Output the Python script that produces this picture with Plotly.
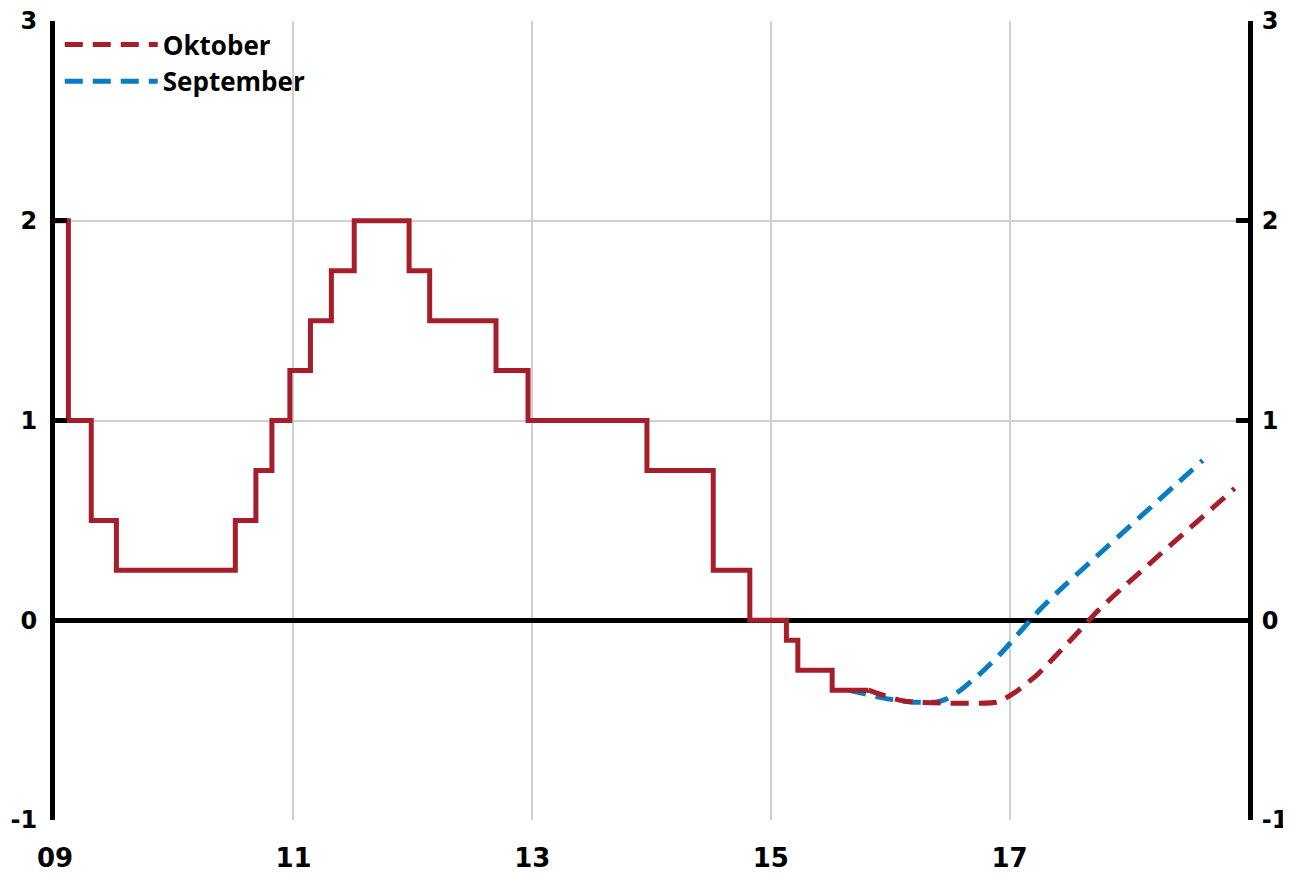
import plotly.graph_objects as go

# Actual repo rate (step series)
step_dates = ["2009-01-01", "2009-02-11", "2009-04-22", "2009-07-08", "2010-07-07",
              "2010-09-08", "2010-10-27", "2010-12-21", "2011-02-22", "2011-04-27",
              "2011-07-06", "2011-12-21", "2012-02-22", "2012-09-12", "2012-12-19",
              "2013-12-18", "2014-07-09", "2014-10-29", "2015-02-18", "2015-03-25",
              "2015-07-08", "2015-10-27"]
step_rates = [2.00, 1.00, 0.50, 0.25, 0.50,
              0.75, 1.00, 1.25, 1.50, 1.75,
              2.00, 1.75, 1.50, 1.25, 1.00,
              0.75, 0.25, 0.00, -0.10, -0.25,
              -0.35, -0.35]

# Forecast "Oktober"
okt_dates = ["2015-10-27", "2015-12-02", "2016-01-30", "2016-03-14", "2016-11-24",
             "2017-01-19", "2017-03-29", "2017-05-27", "2017-07-24", "2017-09-24",
             "2017-11-21", "2018-11-21"]
okt_rates = [-0.35, -0.37, -0.40, -0.41, -0.41,
             -0.36, -0.27, -0.17, -0.07, 0.04,
             0.13, 0.66]

# Forecast "September"
sep_dates = ["2015-08-26", "2015-10-20", "2015-12-13", "2016-02-06", "2016-03-14",
             "2016-05-19", "2016-06-21", "2016-08-04", "2016-10-08", "2016-12-09",
             "2017-04-02", "2017-06-03", "2018-08-15"]
sep_rates = [-0.35, -0.37, -0.39, -0.405, -0.41,
             -0.41, -0.395, -0.35, -0.26, -0.16,
             0.05, 0.15, 0.80]

y_ticks = [-1, 0, 1, 2, 3]
y_tick_text = ["-1", "0", "1", "2", "3"]
x_tick_vals = ["2009-01-01", "2011-01-01", "2013-01-01", "2015-01-01", "2017-01-01"]
x_tick_text = ["09", "11", "13", "15", "17"]

RED = "#A61E2A"
BLUE = "#0A7DC2"
DASH = "18px,10px"

fig = go.Figure()
fig.add_trace(go.Scatter(x=sep_dates, y=sep_rates, mode="lines", name="September",
                         line=dict(color=BLUE, width=5, dash=DASH, shape="spline", smoothing=0.5),
                         legendrank=2))
fig.add_trace(go.Scatter(x=okt_dates, y=okt_rates, mode="lines", name="Oktober",
                         line=dict(color=RED, width=5, dash=DASH, shape="spline", smoothing=0.5),
                         legendrank=1))
fig.add_trace(go.Scatter(x=step_dates, y=step_rates, mode="lines", showlegend=False,
                         line=dict(color=RED, width=5, shape="hv")))
# invisible trace to activate the right axis
fig.add_trace(go.Scatter(x=[step_dates[0]], y=[0], yaxis="y2", mode="markers",
                         marker=dict(opacity=0), showlegend=False, hoverinfo="skip"))

xtickfont = dict(family="DejaVu Sans", size=26, color="black", weight="bold")
ytickfont = dict(family="DejaVu Sans", size=24, color="black", weight="bold")

# page body adds an 8px offset, so the figure is sized to fit the window
fig.update_layout(
    width=1283, height=867,
    margin=dict(l=47, r=43, t=13, b=55),
    paper_bgcolor="white", plot_bgcolor="white",
    showlegend=True,
    legend=dict(x=0.004, y=1.0, xanchor="left", yanchor="top",
                bgcolor="rgba(0,0,0,0)", borderwidth=0, itemwidth=93,
                font=dict(family="Open Sans", size=26, color="black", weight="bold"),
                tracegroupgap=0),
    xaxis=dict(type="date", range=["2009-01-01", "2019-01-01"], automargin=False,
               tickvals=x_tick_vals, ticktext=x_tick_text,
               showgrid=True, gridcolor="#CFCFCF", gridwidth=2,
               showline=False, ticks="", zeroline=False,
               tickfont=xtickfont, ticklabelstandoff=20, ticklabeloverflow="allow"),
    yaxis=dict(range=[-1, 3], tickvals=y_ticks, ticktext=y_tick_text, automargin=False,
               showgrid=True, gridcolor="#CFCFCF", gridwidth=2,
               zeroline=True, zerolinecolor="black", zerolinewidth=5,
               showline=True, linecolor="black", linewidth=5,
               ticks="inside", ticklen=12, tickwidth=5, tickcolor="black",
               tickfont=ytickfont, ticklabelstandoff=8, ticklabeloverflow="allow"),
    yaxis2=dict(range=[-1, 3], tickvals=y_ticks, ticktext=y_tick_text, automargin=False,
                overlaying="y", side="right",
                showgrid=False, zeroline=False,
                showline=True, linecolor="black", linewidth=5,
                ticks="inside", ticklen=12, tickwidth=5, tickcolor="black",
                tickfont=ytickfont, ticklabelstandoff=4, ticklabeloverflow="allow"),
)

fig.write_html("out.html")
